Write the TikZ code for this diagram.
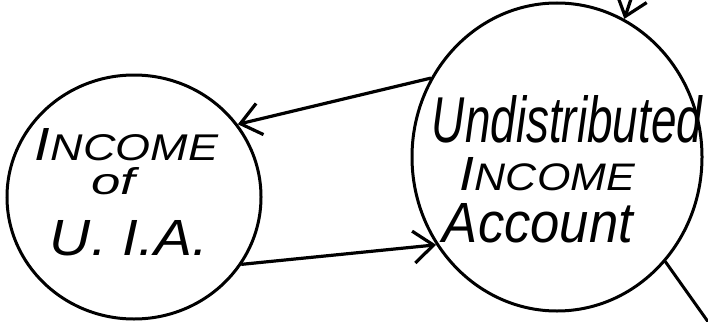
\documentclass[tikz,border=0pt]{standalone}
\usepackage{fontspec}
\setmainfont{Liberation Sans}
\usepackage{graphicx}
\usetikzlibrary{shapes.geometric,arrows.meta}
\begin{document}
\begin{tikzpicture}[x=1pt,y=-1pt,
  bubble/.style={draw, ellipse, line width=3pt, inner sep=0pt},
  flow/.style={line width=3.2pt, line cap=round, -{Straight Barb[length=20pt,width=32pt]}},
  bareline/.style={line width=3pt, line cap=round},
  hand/.style={inner sep=0pt, anchor=base, font=\itshape}]
\useasboundingbox (0,0) rectangle (708,321);
\node[bubble, minimum width=254pt, minimum height=244pt] (L) at (134,197) {};
\node[bubble, minimum width=290pt, minimum height=308pt] (R) at (557,157) {};
\node[hand] (t1) at (126.5,160) {\resizebox{183pt}{32pt}{I\footnotesize NCOME}};
\node[hand] (t2) at (113,194) {\resizebox{44pt}{27pt}{of}};
\node[hand] (t3) at (129,255) {\resizebox{158pt}{35pt}{U. I.A.}};
\node[hand] (t4) at (567,142) {\resizebox{270pt}{47pt}{Undistributed}};
\node[hand] (t5) at (547.5,190) {\resizebox{175pt}{33pt}{I\footnotesize NCOME}};
\node[hand] (t6) at (538,242) {\resizebox{190pt}{39pt}{Account}};
\draw[flow] (R.148) -- (L.35);
\draw[flow] (L.-32) -- (R.216);
\coordinate (top) at (632,-4);
\draw[flow] (top) -- (R.64);
\coordinate (exit) at (716,333);
\draw[bareline] (R.-44) -- (exit);
\end{tikzpicture}
\end{document}
